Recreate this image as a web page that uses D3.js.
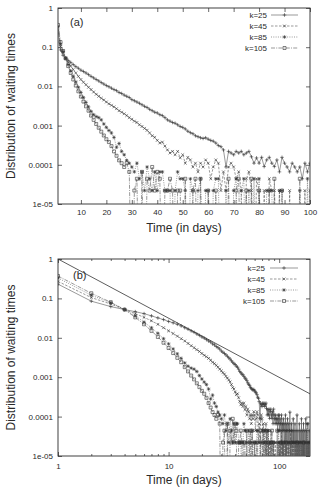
<!DOCTYPE html>
<html>
<head>
<meta charset="utf-8">
<script src="https://cdn.jsdelivr.net/npm/d3@7"></script>
<style>
  body { margin: 0; background: #fff; }
  text { font-family: "Liberation Sans", Arial, Helvetica, sans-serif; fill: #2a2a2a; }
</style>
</head>
<body>
<div id="chart"></div>
<script>
// waiting time distributions, one value per day (day 1 .. 190), 0 = no event
const seriesLabels = ['k=25', 'k=45', 'k=85', 'k=105'];

const k25 = [
  0.23, 0.085, 0.062, 0.052, 0.046, 0.041, 0.036, 0.032, 0.029, 0.026,
  0.024, 0.022, 0.020, 0.018, 0.0165, 0.015, 0.0138, 0.0125, 0.0115, 0.0105,
  0.0098, 0.0090, 0.0083, 0.0078, 0.0070, 0.0066, 0.0060, 0.0056, 0.0052, 0.0046,
  0.0043, 0.0040, 0.0037, 0.0034, 0.0031, 0.0029, 0.0026, 0.0024, 0.0022, 0.0021,
  0.0019, 0.0018, 0.0016, 0.0014, 0.0013, 0.0012, 0.00115, 0.00105, 0.00095, 0.0009,
  0.00082, 0.00072, 0.00066, 0.00062, 0.00055, 0.00052, 0.00049, 0.00047, 0.00049, 0.00045,
  0.00042, 0.0004, 0.00036, 0.00031, 0.00029, 0.00024, 0.000088, 0.00022, 0.0002, 0.00018,
  0.00022, 0.0002, 0.00022, 0.00018, 0.0002, 0.00022, 0.00016, 0.00011, 0.00015, 0.00011,
  0.000155, 0.00009, 0.000133, 0.000155, 0.00011, 0.00009, 0.000133, 0.000066, 0.000155, 0.00011,
  0.000088, 0.000066, 0.00011, 0.000088, 0.000066, 0.000088, 0.000044, 0.00011, 0.000066, 0.00011,
  4.4e-5, 8.8e-5, 6.6e-5, 2.2e-5, 1.1e-4, 4.4e-5, 6.6e-5, 0, 8.8e-5, 4.4e-5,
  6.6e-5, 2.2e-5, 4.4e-5, 1.1e-4, 0, 6.6e-5, 4.4e-5, 2.2e-5, 8.8e-5, 4.4e-5,
  0, 6.6e-5, 2.2e-5, 4.4e-5, 1.3e-4, 2.2e-5, 0, 4.4e-5, 6.6e-5, 2.2e-5,
  4.4e-5, 0, 2.2e-5, 8.8e-5, 2.2e-5, 4.4e-5, 0, 2.2e-5, 6.6e-5, 0,
  2.2e-5, 4.4e-5, 0, 2.2e-5, 1.1e-4, 0, 2.2e-5, 4.4e-5, 0, 2.2e-5,
  0, 6.6e-5, 2.2e-5, 0, 4.4e-5, 2.2e-5, 0, 0, 8.8e-5, 2.2e-5,
  0, 4.4e-5, 0, 2.2e-5, 0, 6.6e-5, 0, 2.2e-5, 0, 4.4e-5,
  2.2e-5, 0, 0, 8.8e-5, 0, 2.2e-5, 4.4e-5, 0, 2.2e-5, 0,
  0, 6.6e-5, 0, 2.2e-5, 0, 0, 4.4e-5, 2.2e-5, 0, 2.2e-5
];

const k45 = [
  0.27, 0.105, 0.072, 0.052, 0.041, 0.033, 0.027, 0.022, 0.018, 0.015,
  0.0128, 0.011, 0.0095, 0.0083, 0.0072, 0.0063, 0.0056, 0.0050, 0.0045, 0.0040,
  0.0036, 0.0033, 0.0030, 0.0027, 0.0024, 0.0022, 0.0020, 0.0018, 0.0016, 0.00145,
  0.0013, 0.0012, 0.00105, 0.00095, 0.00085, 0.00076, 0.00065, 0.00055, 0.0005, 0.00042,
  0.00036, 0.00038, 0.0003, 0.00024, 0.0002, 0.00022, 0.00018, 0.00022, 0.00015, 0.00018,
  0.00011, 0.000155, 0.000133, 0.000088, 0.00011, 0.000066, 0.00011, 0.000088, 0.000133, 0.00011,
  0.000044, 0.000088, 0.000133, 0.00011, 0.000022, 0.000066, 0.000022, 0.000088, 0.00011, 0.000088,
  0.000044, 0.000066, 0.000022, 0, 0.000044, 0.000066, 0.000022, 0, 0.000044, 0.000022,
  0, 0.000022, 0, 0.000044, 0.000022, 0.000022, 0, 0.000022, 0, 0,
  0, 0.000022, 0, 0, 0, 0, 0, 0.000022, 0, 0.000022,
  0, 2.2e-5, 0, 0, 4.4e-5, 0, 2.2e-5, 0, 0, 2.2e-5,
  0, 0, 2.2e-5, 0, 4.4e-5, 0, 0, 2.2e-5, 0, 0,
  2.2e-5, 0, 0, 0, 2.2e-5, 0, 4.4e-5, 0, 0, 0,
  0, 2.2e-5, 0, 0, 0, 2.2e-5, 0, 0, 0, 0,
  2.2e-5, 0, 0, 0, 0, 2.2e-5, 0, 0, 0, 0,
  0, 0, 2.2e-5, 0, 0, 0, 0, 0, 2.2e-5, 0,
  0, 0, 0, 2.2e-5, 0, 0, 0, 0, 0, 0,
  2.2e-5, 0, 0, 0, 0, 0, 0, 2.2e-5, 0, 0,
  0, 0, 0, 0, 2.2e-5, 0, 0, 0, 0, 2.2e-5
];

const k85 = [
  0.33, 0.12, 0.078, 0.052, 0.036, 0.025, 0.018, 0.013, 0.0095, 0.007,
  0.0052, 0.0039, 0.003, 0.0023, 0.0019, 0.0017, 0.0016, 0.0014, 0.0011, 0.0009,
  0.00075, 0.00065, 0.0005, 0.00028, 0.00035, 0.00022, 0.00018, 0.00013, 0.00011, 0.000088,
  0.000066, 0.00011, 0.000044, 0.000066, 0.000022, 0.000088, 0.000044, 0.000022, 0.000066, 0.000022,
  0.000066, 0.000066, 0.000022, 0.000022, 0.000022, 0, 0.000022, 0.000066, 0.000044, 0.000044,
  0.000022, 0, 0.000044, 0.000022, 0, 0.000022, 0.000044, 0, 0.000022, 0.000022,
  0, 0.000022, 0.000044, 0.000044, 0, 0, 0.000022, 0, 0, 0.000022,
  0.000044, 0, 0.000022, 0.000044, 0, 0.000022, 0, 0.000044, 0, 0.000044,
  0, 0, 0.000022, 0.000022, 0.000022, 0, 0, 0.000022, 0.000022, 0,
  0, 0, 0, 0, 0, 0.000022, 0, 0, 0.000044, 0,
  2.2e-5, 0, 0, 2.2e-5, 0, 0, 0, 2.2e-5, 0, 0,
  0, 2.2e-5, 0, 0, 0, 0, 2.2e-5, 0, 0, 0,
  0, 0, 2.2e-5, 0, 0, 0, 0, 0, 2.2e-5, 0,
  0, 0, 0, 0, 2.2e-5, 0, 0, 0, 0, 0,
  0, 2.2e-5, 0, 0, 0, 0, 0, 0, 0, 2.2e-5,
  0, 0, 0, 0, 0, 0, 2.2e-5, 0, 0, 0,
  0, 0, 0, 0, 0, 0, 0, 2.2e-5, 0, 0,
  0, 0, 0, 0, 0, 0, 0, 0, 6.6e-5, 0,
  0, 0, 2.2e-5, 0, 0, 0, 0, 0, 0, 0
];

const k105 = [
  0.37, 0.135, 0.08, 0.052, 0.033, 0.022, 0.015, 0.0105, 0.0075, 0.0055,
  0.0041, 0.0031, 0.0024, 0.0018, 0.0014, 0.0011, 0.00088, 0.0007, 0.00056, 0.00045,
  0.00038, 0.0003, 0.00022, 0.00017, 0.00013, 0.00011, 0.000088, 0.00011, 0.000066, 0,
  0.000022, 0.000044, 0, 0.000066, 0, 0.000044, 0.000022, 0.000088, 0.000022, 0.000066,
  0.000044, 0, 0.000022, 0.000022, 0.000044, 0.000022, 0, 0.000022, 0.000022, 0,
  0.000044, 0, 0, 0.000022, 0.000044, 0, 0.000044, 0, 0, 0.000022,
  0, 0, 0.000022, 0, 0, 0, 0, 0.000044, 0, 0,
  0.000022, 0.000044, 0, 0, 0.000022, 0, 0.000044, 0, 0, 0.000022,
  0, 0, 0, 0.000022, 0, 0.000044, 0, 0, 0.000022, 0,
  0, 0, 0, 0, 0, 0.000044, 0, 0, 0, 0,
  0, 0, 2.2e-5, 0, 0, 0, 0, 0, 2.2e-5, 0,
  0, 0, 0, 0, 0, 2.2e-5, 0, 0, 0, 0,
  0, 0, 0, 0, 0, 0, 0, 2.2e-5, 0, 0,
  0, 0, 0, 0, 0, 0, 0, 0, 0, 0,
  0, 0, 0, 0, 2.2e-5, 0, 0, 0, 0, 0,
  0, 0, 0, 0, 0, 0, 0, 0, 0, 0,
  0, 0, 0, 0, 0, 2.2e-5, 0, 0, 0, 0,
  0, 0, 0, 0, 0, 0, 0, 0, 0, 0,
  0, 0, 0, 0, 0, 0, 0, 0, 0, 0
];

const yTicks = [1, 0.1, 0.01, 0.001, 0.0001, 1e-5];
const yTickLabels = ['1', '0.1', '0.01', '0.001', '0.0001', '1e-05'];
const linTicks = [10, 20, 30, 40, 50, 60, 70, 80, 90, 100];
const logTicks = [1, 10, 100];
const logMinorTicks = [2, 3, 4, 5, 6, 7, 8, 9, 20, 30, 40, 50, 60, 70, 80, 90];
// straight reference line in panel (b), slope -1.5
const guideLine = [[1, 1], [200, 3.5e-4]];

const width = 321;
const height = 488;
const left = 58;
const right = 310;

const allSeries = [k25, k45, k85, k105].map((vals, i) => ({
  label: seriesLabels[i],
  points: vals.map((v, j) => ({ t: j + 1, v })),
}));

// gnuplot-like line types / point types
const styles = [
  { dash: null, mark: 'M-1.8,0H1.8M0,-1.8V1.8' },
  { dash: '2.5,1.5', mark: 'M-1.4,-1.4L1.4,1.4M-1.4,1.4L1.4,-1.4' },
  { dash: '1,1.3', mark: 'M-1.8,0H1.8M0,-1.8V1.8M-1.3,-1.3L1.3,1.3M-1.3,1.3L1.3,-1.3' },
  { dash: '4,1.2,1,1.2', mark: 'M-1.5,-1.5H1.5V1.5H-1.5Z' },
];

const svg = d3.select('#chart')
  .append('svg')
  .attr('width', width)
  .attr('height', height);

svg.append('rect').attr('width', width).attr('height', height).attr('fill', '#fff');

const panels = [
  {
    id: 'a', top: 8, bottom: 204,
    x: d3.scaleLinear().domain([1, 100]).range([left, right]),
    xTicks: linTicks, xMinor: [], xPad: 5.5,
    titleY: 232, tag: '(a)', tagX: 70, tagY: 26,
    legendTop: 15, legendTextX: 267, legendLine: [271, 298],
  },
  {
    id: 'b', top: 259, bottom: 456,
    x: d3.scaleLog().domain([1, 190]).range([left, right]),
    xTicks: logTicks, xMinor: logMinorTicks, xPad: 7.5,
    titleY: 484, tag: '(b)', tagX: 73, tagY: 279,
    legendTop: 268, legendTextX: 265, legendLine: [270, 298],
  },
];

const styleAxis = (sel) => {
  sel.attr('color', '#2a2a2a').attr('font-size', 8)
    .attr('font-family', '"Liberation Sans", Arial, sans-serif');
  sel.select('.domain').remove();
  sel.selectAll('line').attr('stroke-width', 0.7);
};

panels.forEach((p) => {
  const g = svg.append('g');
  const { x } = p;
  const y = d3.scaleLog().domain([1e-5, 1]).range([p.bottom, p.top]);

  // ticks, all inward, mirrored on top / right
  g.append('g').attr('transform', `translate(0,${p.bottom})`)
    .call(d3.axisBottom(x).tickValues(p.xTicks).tickFormat((d) => `${d}`)
      .tickSize(-4).tickSizeOuter(0).tickPadding(p.xPad))
    .call(styleAxis);
  g.append('g').attr('transform', `translate(0,${p.top})`)
    .call(d3.axisTop(x).tickValues(p.xTicks).tickFormat('')
      .tickSize(-4).tickSizeOuter(0))
    .call(styleAxis);
  if (p.xMinor.length) {
    g.append('g').attr('transform', `translate(0,${p.bottom})`)
      .call(d3.axisBottom(x).tickValues(p.xMinor).tickFormat('').tickSize(-2).tickSizeOuter(0))
      .call(styleAxis);
    g.append('g').attr('transform', `translate(0,${p.top})`)
      .call(d3.axisTop(x).tickValues(p.xMinor).tickFormat('').tickSize(-2).tickSizeOuter(0))
      .call(styleAxis);
  }
  g.append('g').attr('transform', `translate(${left},0)`)
    .call(d3.axisLeft(y).tickValues(yTicks).tickFormat((d, i) => yTickLabels[i])
      .tickSize(-4).tickSizeOuter(0).tickPadding(5))
    .call(styleAxis);
  g.append('g').attr('transform', `translate(${right},0)`)
    .call(d3.axisRight(y).tickValues(yTicks).tickFormat('')
      .tickSize(-4).tickSizeOuter(0))
    .call(styleAxis);

  // frame
  g.append('rect')
    .attr('x', left).attr('y', p.top)
    .attr('width', right - left).attr('height', p.bottom - p.top)
    .attr('fill', 'none').attr('stroke', '#2a2a2a').attr('stroke-width', 0.9);

  // titles
  g.append('text')
    .attr('x', (left + right) / 2).attr('y', p.titleY)
    .attr('text-anchor', 'middle').attr('font-size', 12)
    .text('Time (in days)');
  g.append('text')
    .attr('transform', `translate(14.6,${(p.top + p.bottom) / 2}) rotate(-90)`)
    .attr('text-anchor', 'middle').attr('font-size', 12)
    .text('Distribution of waiting times');
  g.append('text')
    .attr('x', p.tagX).attr('y', p.tagY).attr('font-size', 11)
    .text(p.tag);

  // data
  const clipId = `clip-${p.id}`;
  svg.append('clipPath').attr('id', clipId)
    .append('rect')
    .attr('x', left).attr('y', p.top)
    .attr('width', right - left).attr('height', p.bottom - p.top);

  const plot = g.append('g').attr('clip-path', `url(#${clipId})`);
  const yv = (d) => (d.v > 0 ? y(d.v) : p.bottom + 120);
  const line = d3.line().x((d) => x(d.t)).y(yv);

  if (p.id === 'b') {
    plot.append('path')
      .datum(guideLine)
      .attr('d', d3.line().x((d) => x(d[0])).y((d) => y(d[1])))
      .attr('fill', 'none').attr('stroke', '#333').attr('stroke-width', 0.8);
  }

  allSeries.forEach((s, i) => {
    const st = styles[i];
    plot.append('path')
      .datum(s.points)
      .attr('d', line)
      .attr('fill', 'none')
      .attr('stroke', '#555')
      .attr('stroke-width', 0.6)
      .attr('stroke-dasharray', st.dash);
    plot.selectAll(null)
      .data(s.points.filter((d) => d.v > 0))
      .enter()
      .append('path')
      .attr('transform', (d) => `translate(${x(d.t)},${y(d.v)})`)
      .attr('d', st.mark)
      .attr('fill', 'none')
      .attr('stroke', '#333')
      .attr('stroke-width', 0.6);
  });

  // legend
  const lg = g.append('g');
  seriesLabels.forEach((lab, i) => {
    const st = styles[i];
    const ly = p.legendTop + i * 11;
    lg.append('text')
      .attr('x', p.legendTextX).attr('y', ly + 3)
      .attr('text-anchor', 'end').attr('font-size', 8)
      .text(lab);
    lg.append('line')
      .attr('x1', p.legendLine[0]).attr('x2', p.legendLine[1])
      .attr('y1', ly).attr('y2', ly)
      .attr('stroke', '#555').attr('stroke-width', 0.6)
      .attr('stroke-dasharray', st.dash);
    lg.append('path')
      .attr('transform', `translate(${(p.legendLine[0] + p.legendLine[1]) / 2},${ly})`)
      .attr('d', st.mark)
      .attr('fill', 'none')
      .attr('stroke', '#333')
      .attr('stroke-width', 0.6);
  });
});
</script>
</body>
</html>
